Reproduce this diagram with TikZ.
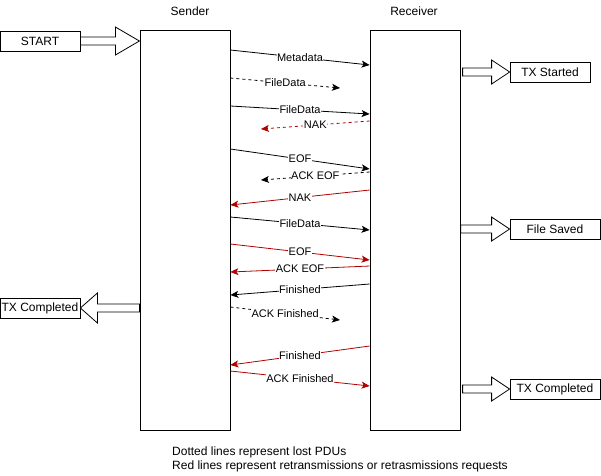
\documentclass[tikz,border=0pt]{standalone}
\usepackage{fontspec}
\setmainfont{Liberation Sans}
\usetikzlibrary{arrows.meta}

\definecolor{retx}{HTML}{B20000}

\tikzset{
  lifeline/.style={draw,line width=0.8pt,minimum width=90pt,minimum height=400pt},
  endbox/.style={draw,line width=0.8pt,minimum height=20pt,inner sep=1pt,font=\fontsize{12}{14}\selectfont},
  msg/.style={line width=0.8pt,-{Stealth[length=8pt,width=7pt,inset=2pt]}},
  lost/.style={msg,dash pattern=on 3pt off 3pt},
  lbl/.style={midway,fill=white,text=black,inner sep=0.5pt,font=\fontsize{11}{13}\selectfont},
  fatarrow/.style={draw,line width=0.8pt,fill=white}
}

% block arrow: start point, shaft length, head length, head half height
\newcommand{\blockarrow}[4]{%
  \draw[fatarrow] (#1) ++(0,-4) -- ++(#2,0) -- ++(0,{4-#4}) -- ++(#3,#4)
    -- ++({-(#3)},#4) -- ++(0,{4-#4}) -- ++({-(#2)},0) -- cycle;}

\begin{document}
\begin{tikzpicture}[x=1pt,y=-1pt]
  \useasboundingbox (0,0) rectangle (601,475);

  \node[lifeline] (snd) at (185,230) {};
  \node[lifeline] (rcv) at (415,230) {};
  \node[font=\fontsize{12}{14}\selectfont] (sndtitle) at (190,11) {Sender};
  \node[font=\fontsize{12}{14}\selectfont] (rcvtitle) at (414,11) {Receiver};

  \node[endbox,minimum width=80pt] (start) at (40,41) {START};
  \node[endbox,minimum width=80pt] (txs) at (550,72) {TX Started};
  \node[endbox,minimum width=90pt] (saved) at (555,229) {File Saved};
  \node[endbox,minimum width=90pt] (txcr) at (555,389) {TX Completed};
  \node[endbox,minimum width=80pt] (txcl) at (40,308) {TX Completed};

  \blockarrow{start.east}{35}{24}{14}
  \blockarrow{[xshift=-47pt]txs.west}{29}{18}{12}
  \blockarrow{[xshift=-49pt]saved.west}{31}{18}{12}
  \blockarrow{[xshift=-47pt]txcr.west}{29}{18}{12}
  \blockarrow{[xshift=59pt]txcl.east}{-42}{-17}{15}

  % messages
  \coordinate (lostfd) at (340,88);
  \coordinate (lostackfin) at (340,320);
  \draw[msg] (snd.east |- 0,50) -- (rcv.west |- 0,65) node[lbl] {Metadata};
  \draw[lost] (snd.east |- 0,78) -- (lostfd) node[lbl] {FileData};
  \draw[msg] (snd.east |- 0,106) -- (rcv.west |- 0,114) node[lbl] {FileData};
  \draw[lost,retx] (rcv.west |- 0,121) -- (261,129) node[lbl] {NAK};
  \draw[msg] (snd.east |- 0,149) -- (rcv.west |- 0,169) node[lbl] {EOF};
  \draw[lost] (rcv.west |- 0,172) -- (261,180) node[lbl] {ACK EOF};
  \draw[msg,retx] (rcv.west |- 0,190) -- (snd.east |- 0,205) node[lbl] {NAK};
  \draw[msg] (snd.east |- 0,217) -- (rcv.west |- 0,230) node[lbl] {FileData};
  \draw[msg,retx] (snd.east |- 0,244) -- (rcv.west |- 0,260) node[lbl] {EOF};
  \draw[msg,retx] (rcv.west |- 0,266) -- (snd.east |- 0,272) node[lbl] {ACK EOF};
  \draw[msg] (rcv.west |- 0,284) -- (snd.east |- 0,295) node[lbl] {Finished};
  \draw[lost] (snd.east |- 0,307) -- (lostackfin) node[lbl] {ACK Finished};
  \draw[msg,retx] (rcv.west |- 0,346) -- (snd.east |- 0,365) node[lbl] {Finished};
  \draw[msg,retx] (snd.east |- 0,371) -- (rcv.west |- 0,386) node[lbl] {ACK Finished};

  \node[anchor=north west,align=left,inner sep=0pt,font=\fontsize{12}{14}\selectfont] (notes) at (172,447)
    {Dotted lines represent lost PDUs\\Red lines represent retransmissions or retrasmissions requests};
\end{tikzpicture}
\end{document}
